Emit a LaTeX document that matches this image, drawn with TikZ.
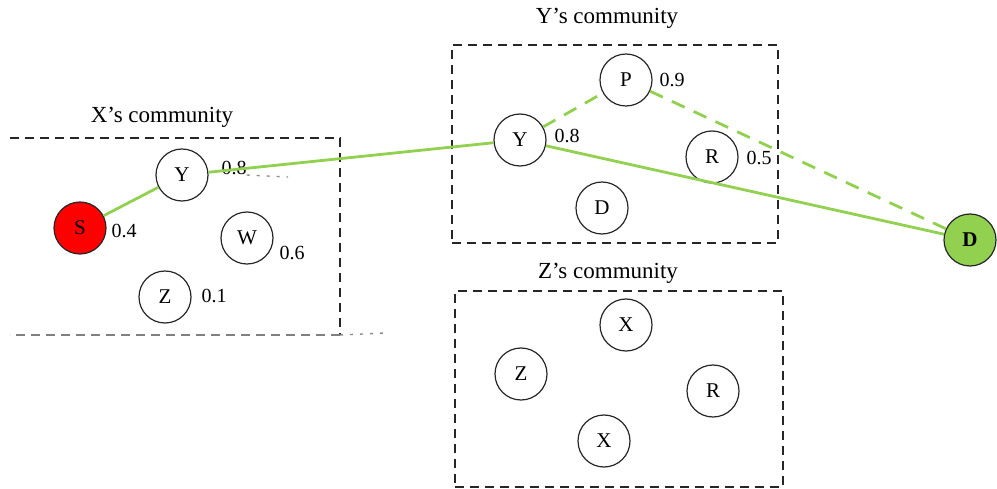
\documentclass[tikz,border=0pt]{standalone}
\usepackage{fontspec}
\setmainfont{Liberation Serif}
\begin{document}
\begin{tikzpicture}[x=1pt,y=-1pt,
  nd/.style={circle,draw=black!85,line width=1.2pt,minimum size=52pt,inner sep=0pt,font=\fontsize{21}{23}\selectfont},
  val/.style={inner sep=0pt,font=\fontsize{20}{22}\selectfont},
  ttl/.style={inner sep=0pt,font=\fontsize{23}{25}\selectfont},
  boxline/.style={dashed,dash pattern=on 9pt off 6pt,line width=1.6pt,black!85},
  graybox/.style={dashed,dash pattern=on 9pt off 6pt,line width=1.6pt,black!50},
  dotline/.style={dash pattern=on 3pt off 7pt,line width=1.4pt,black!45},
  gs/.style={line width=2.8pt,draw={rgb,255:red,146;green,208;blue,80}},
  gd/.style={gs,dash pattern=on 14pt off 10pt}]
\useasboundingbox (0,0) rectangle (997,489);
% X's community
\node[ttl] (tx) at (162,117) {X's community};
\coordinate (xa) at (10,138);
\coordinate (xb) at (340,138);
\coordinate (xc) at (340,335);
\coordinate (xd) at (10,335);
\draw[boxline] (xa) -- (xb) -- (xc);
\draw[graybox] (xc) -- (xd);
\coordinate (xe) at (385,333);
\draw[dotline] (xc) -- (xe);
\node[nd,fill=red] (s) at (80,228) {S};
\node[nd] (y1) at (182,175) {Y};
\node[nd] (w) at (247,238) {W};
\node[nd] (z1) at (165,297) {Z};
\node[val] (vs) at (124,231) {0.4};
\node[val] (vy1) at (234,168) {0.8};
\coordinate (dy1) at (288,177);
\draw[dotline] (vy1.south east) -- (dy1);
\node[val] (vw) at (292,253) {0.6};
\node[val] (vz1) at (214,296) {0.1};
% Y's community
\node[ttl] (ty) at (607,18) {Y's community};
\node[draw,boxline,minimum width=326pt,minimum height=198pt] (by) at (615,144) {};
\node[nd] (p) at (626,80) {P};
\node[val] (vp) at (672,80) {0.9};
\node[nd] (y2) at (520,140) {Y};
\node[val] (vy2) at (567,136) {0.8};
\node[nd] (r1) at (712,157) {R};
\node[val] (vr1) at (759,158) {0.5};
\node[nd] (d1) at (602,208) {D};
% Z's community
\node[ttl] (tz) at (608,273) {Z's community};
\node[draw,boxline,minimum width=328pt,minimum height=196pt] (bz) at (619,389) {};
\node[nd] (x2) at (626,325) {X};
\node[nd] (z2) at (521,374) {Z};
\node[nd] (r2) at (713,391) {R};
\node[nd] (x3) at (604,441) {X};
% destination
\node[nd,fill={rgb,255:red,146;green,208;blue,80},font=\fontsize{21}{23}\selectfont\bfseries] (d) at (970,240) {D};
% edges
\draw[gs] (s) -- (y1);
\draw[gs] (y1) -- (y2);
\draw[gd] (y2) -- (p);
\draw[gd] (p) -- (d);
\draw[gs] (y2) -- (d);
\end{tikzpicture}
\end{document}
